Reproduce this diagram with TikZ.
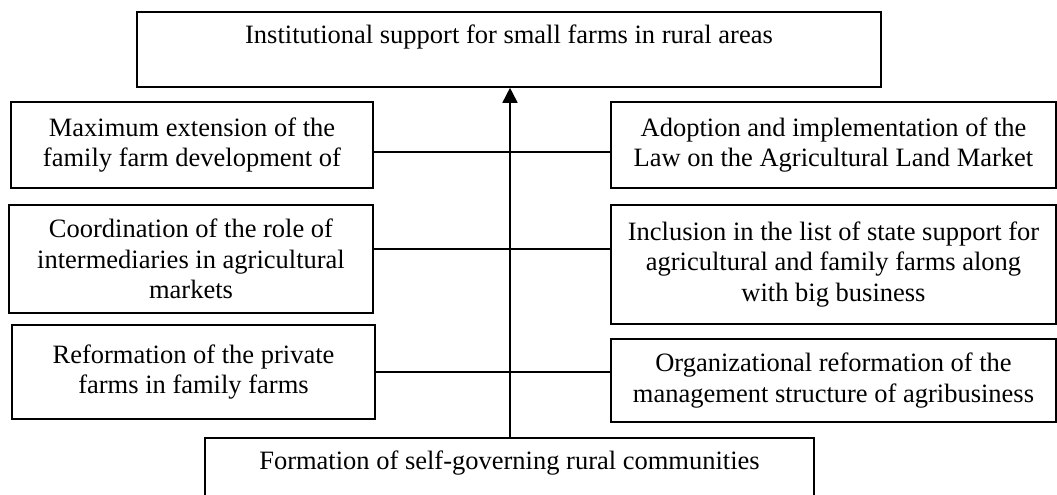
\documentclass[tikz,border=0pt]{standalone}
\usepackage{fontspec}
\setmainfont{Liberation Serif}
\usetikzlibrary{arrows.meta}
\begin{document}
\begin{tikzpicture}[x=1pt,y=-1pt,
  boxnode/.style={draw=black, line width=1.6pt, rectangle, inner sep=0pt, align=center,
    font=\fontsize{26.5}{30.5}\selectfont},
  link/.style={line width=1.6pt}]
\useasboundingbox (0,0) rectangle (1057,495);
\clip (0,0) rectangle (1057,495);
\fill[white] (0,0) rectangle (1057,495);
% boxes
\node[boxnode, minimum width=744pt, minimum height=75pt] (top) at (509,49.5)
  {Institutional support for small farms in rural areas\\ \mbox{}};
\node[boxnode, minimum width=362pt, minimum height=86pt] (L1) at (192,145)
  {Maximum extension of the\\family farm development of};
\node[boxnode, minimum width=364pt, minimum height=108pt] (L2) at (191,259)
  {Coordination of the role of\\intermediaries in agricultural\\markets};
\node[boxnode, minimum width=363pt, minimum height=94pt] (L3) at (193.5,372)
  {Reformation of the private\\farms in family farms};
\node[boxnode, minimum width=445pt, minimum height=86pt] (R1) at (833.5,145)
  {Adoption and implementation of the\\Law on the Agricultural Land Market};
\node[boxnode, minimum width=445pt, minimum height=119pt] (R2) at (833.5,264.5)
  {Inclusion in the list of state support for\\agricultural and family farms along\\with big business};
\node[boxnode, minimum width=445pt, minimum height=83pt] (R3) at (833.5,380.5)
  {Organizational reformation of the\\management structure of agribusiness};
\node[boxnode, minimum width=609pt, minimum height=75pt] (bot) at (509.5,475.5)
  {Formation of self-governing rural communities\\ \mbox{}};
% junctions on the spine
\coordinate (j1) at (510,152);
\coordinate (j2) at (510,249);
\coordinate (j3) at (510,372);
% connectors
\draw[link, -{Triangle[width=15pt,length=15pt]}] (bot.north -| j1) -- (top.south -| j1);
\draw[link] (L1.east |- j1) -- (R1.west |- j1);
\draw[link] (L2.east |- j2) -- (R2.west |- j2);
\draw[link] (L3.east |- j3) -- (R3.west |- j3);
\end{tikzpicture}
\end{document}
